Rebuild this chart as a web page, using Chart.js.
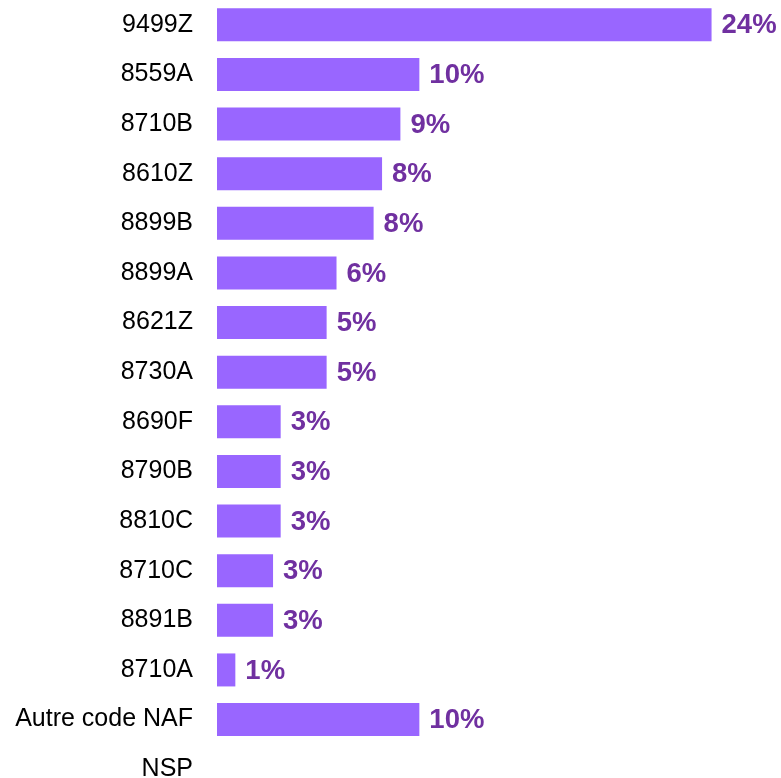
<!DOCTYPE html>
<html>
<head>
<meta charset="utf-8">
<script src="https://cdn.jsdelivr.net/npm/chart.js@4/dist/chart.umd.min.js"></script>
<style>
  html, body { margin: 0; padding: 0; background: #fff; overflow: hidden; }
  /* the axis keeps half a label height above and below, pulled back up here */
  #wrap { position: relative; width: 781px; height: 824px; margin-top: -15px; }
</style>
</head>
<body>
<div id="wrap"><canvas id="nafChart"></canvas></div>
<script>
// codes NAF (categories)
const codes = ['9499Z', '8559A', '8710B', '8610Z', '8899B', '8899A', '8621Z', '8730A',
  '8690F', '8790B', '8810C', '8710C', '8891B', '8710A', 'Autre code NAF', 'NSP']
const parts = [24, 9.82, 8.9, 8.01, 7.6, 5.8, 5.32, 5.32,
  3.09, 3.09, 3.09, 2.72, 2.72, 0.89, 9.82, null]

const barColor = '#9966ff'
const labelColor = '#7030a0'

// labels "xx%" au bout des barres
const valueLabels = {
  id: 'valueLabels',
  afterDatasetsDraw(chart) {
    const ctx = chart.ctx
    const meta = chart.getDatasetMeta(0)
    ctx.save()
    ctx.font = 'bold 27.5px "Liberation Sans", Arial, sans-serif'
    ctx.fillStyle = labelColor
    ctx.textAlign = 'left'
    ctx.textBaseline = 'middle'
    meta.data.forEach((bar, i) => {
      const v = parts[i]
      if (v === null) return
      ctx.fillText(Math.round(v) + '%', bar.x + 10, bar.y + 1)
    })
    ctx.restore()
  }
}

const nafChart = new Chart(document.getElementById('nafChart').getContext('2d'), {
  type: 'bar',
  data: {
    labels: codes,
    datasets: [{
      data: parts,
      backgroundColor: barColor,
      borderWidth: 0,
      barPercentage: 0.665,
      categoryPercentage: 1
    }]
  },
  options: {
    indexAxis: 'y',
    responsive: true,
    maintainAspectRatio: false,
    animation: false,
    layout: { padding: 0 },
    plugins: {
      legend: { display: false },
      tooltip: { enabled: false }
    },
    scales: {
      x: {
        display: false,
        min: 0,
        max: 27.37
      },
      y: {
        grid: { display: false, tickLength: 24 },
        border: { display: false },
        ticks: {
          color: '#000',
          padding: 0,
          font: { family: '"Liberation Sans", Arial, sans-serif', size: 25 }
        },
        afterFit(scale) { scale.width = 217 }
      }
    }
  },
  plugins: [valueLabels]
})
</script>
</body>
</html>
